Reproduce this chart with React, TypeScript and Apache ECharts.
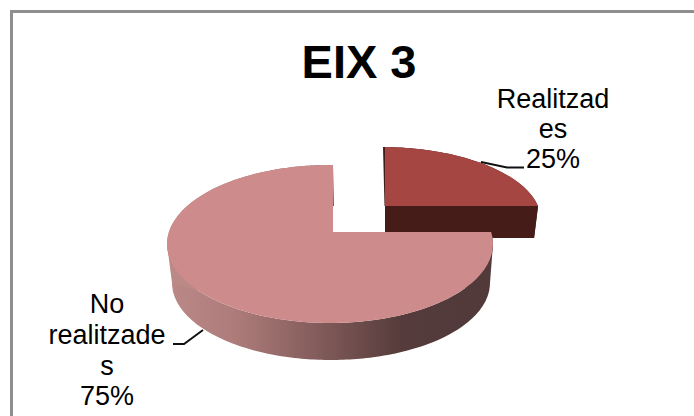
import React, { useEffect, useRef } from "react";
import * as echarts from "echarts";

const chartTitle = "EIX 3";
const categories = ["Realitzades", "No realitzades"];
const sliceValues = [25, 75];
const labelLines = [["Realitzad", "es"], ["No", "realitzade", "s"]];

const topColors = ["#a54643", "#cd8c8b"];
const wallColors: any[] = [
  "#451c18",
  {
    type: "linear", x: 0, y: 0, x2: 1, y2: 0,
    colorStops: [
      { offset: 0, color: "#bb8987" },
      { offset: 0.2, color: "#ae7d7b" },
      { offset: 0.42, color: "#8a6160" },
      { offset: 0.72, color: "#553b3b" },
      { offset: 1, color: "#523a3a" },
    ],
  },
];
const wallEdgeColors = ["#bb8987", "#523a3a"];

// projected ellipse of each slice's rim, top and bottom of the disc
const discs = [
  { apex: [385, 206], top: { cx: 381, cy: 220, rx: 160, ry: 73 }, bottomApex: [385, 238], bottom: { cx: 380, cy: 252, rx: 157, ry: 73 } },
  { apex: [333, 232], top: { cx: 330, cy: 244, rx: 163, ry: 79 }, bottomApex: [334, 269], bottom: { cx: 331, cy: 283, rx: 159, ry: 77 } },
];
const labelPlaces = [
  { x: 553, y: 84, lineHeight: 30 },
  { x: 107, y: 289, lineHeight: 30.7 },
];
const leaders = [
  [[481, 162], [507, 167.5], [524, 167.5]],
  [[203, 330], [184, 344], [173, 344]],
];

function rimPoint(apex: number[], e: any, deg: number) {
  const a = (deg * Math.PI) / 180;
  const dx = Math.sin(a) / e.rx;
  const dy = -Math.cos(a) / e.ry;
  const px = (apex[0] - e.cx) / e.rx;
  const py = (apex[1] - e.cy) / e.ry;
  const A = dx * dx + dy * dy;
  const B = 2 * (px * dx + py * dy);
  const C = px * px + py * py - 1;
  const t = (-B + Math.sqrt(B * B - 4 * A * C)) / (2 * A);
  return [apex[0] + t * Math.sin(a), apex[1] - t * Math.cos(a)];
}

function arc(apex: number[], e: any, from: number, to: number) {
  const pts: number[][] = [];
  for (let d = from; d <= to; d += 2) pts.push(rimPoint(apex, e, d));
  return pts;
}

export default function App() {
  const ref = useRef<HTMLDivElement>(null);
  useEffect(() => {
    document.body.style.margin = "0";
    document.body.style.overflow = "hidden";
    const chart = echarts.init(ref.current!, undefined, { renderer: "svg" });
    const total = sliceValues.reduce((a, b) => a + b, 0);
    const font = '"Liberation Sans", Arial, sans-serif';
    chart.setOption({
      animation: false,
      backgroundColor: "#ffffff",
      title: {
        text: chartTitle,
        left: 354,
        top: 33,
        textAlign: "center",
        textStyle: { fontFamily: font, fontSize: 47, fontWeight: "bold", color: "#000000" },
      },
      graphic: [
        {
          type: "polyline",
          silent: true,
          shape: { points: [[11.5, 416], [11.5, 11.5], [694, 11.5]] },
          style: { stroke: "#8e8e8e", lineWidth: 3, fill: "none" },
        },
      ],
      series: [
        {
          type: "custom",
          coordinateSystem: "none",
          silent: true,
          data: sliceValues.map((v, i) => ({ name: categories[i], value: [v, i] })),
          renderItem: (_p: any, api: any) => {
            const value = api.value(0);
            const i = api.value(1);
            const before = sliceValues.slice(0, i).reduce((a, b) => a + b, 0);
            const start = (before / total) * 360;
            const end = ((before + value) / total) * 360;
            const g = discs[i];
            const topRim = arc(g.apex, g.top, start, end);
            const bottomRim = arc(g.bottomApex, g.bottom, start, end);
            const firstTop = topRim[0];
            const lastTop = topRim[topRim.length - 1];
            const lastBottom = bottomRim[bottomRim.length - 1];
            const children: any[] = [
              {
                type: "polygon",
                shape: { points: [...topRim, ...bottomRim.slice().reverse()] },
                style: { fill: wallColors[i] },
              },
            ];
            if (i === 0) {
              children.push({
                type: "polygon",
                shape: { points: [g.apex, lastTop, lastBottom, g.bottomApex] },
                style: { fill: wallColors[0] },
              });
              children.push({
                type: "polygon",
                shape: { points: [[firstTop[0] - 2, firstTop[1]], firstTop, g.apex, [g.apex[0] - 0.5, g.apex[1]]] },
                style: { fill: wallColors[0] },
              });
            } else {
              // silhouette edges joining the top and bottom rims at their extremes
              [-1, 1].forEach((side, k) => {
                const tx = g.top.cx + side * g.top.rx;
                const bx = g.bottom.cx + side * g.bottom.rx;
                children.push({
                  type: "polygon",
                  shape: { points: [[tx, g.top.cy], [bx, g.bottom.cy], [bx - side * 25, g.bottom.cy + 8], [tx - side * 25, g.top.cy]] },
                  style: { fill: wallEdgeColors[k] },
                });
              });
            }
            children.push({
              type: "polygon",
              shape: { points: [g.apex, ...topRim] },
              style: { fill: topColors[i] },
            });
            children.push({
              type: "polyline",
              shape: { points: leaders[i] },
              style: { stroke: "#111111", lineWidth: 2, fill: "none" },
            });
            const pct = Math.round((value / total) * 100) + "%";
            children.push({
              type: "text",
              style: {
                x: labelPlaces[i].x,
                y: labelPlaces[i].y,
                text: [...labelLines[i], pct].join("\n"),
                fill: "#000000",
                font: `27px ${font}`,
                lineHeight: labelPlaces[i].lineHeight,
                align: "center",
                verticalAlign: "top",
              },
            });
            return { type: "group", children };
          },
        },
      ],
    });
    return () => chart.dispose();
  }, []);
  return <div ref={ref} style={{ width: 694, height: 416 }} />;
}
